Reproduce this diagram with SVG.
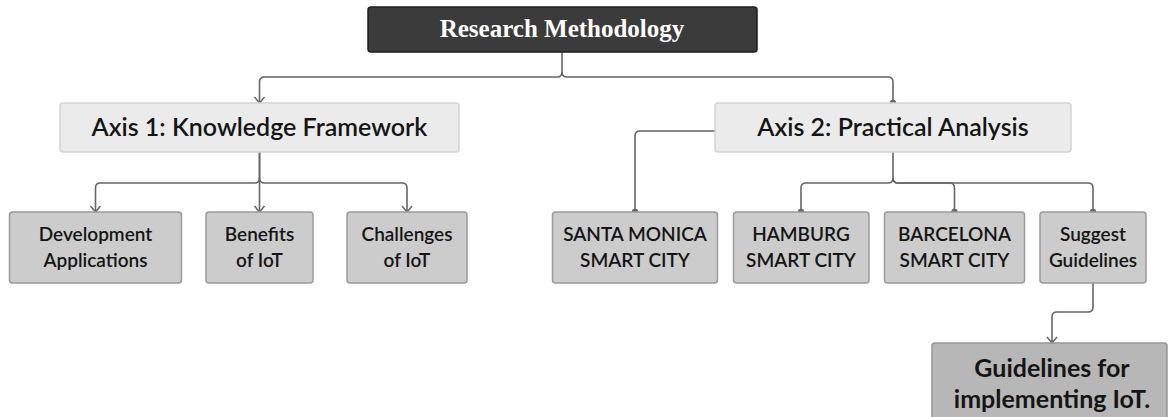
<svg xmlns="http://www.w3.org/2000/svg" width="1172" height="417" viewBox="0 0 1172 417">
<defs>
<style>
.root rect{fill:#3b3b3b;stroke:#1e1e1e;stroke-width:1.5}
.root text{fill:#ffffff;font-family:"Liberation Serif","DejaVu Serif",serif;font-weight:bold;font-size:25px;text-anchor:middle}
.axis rect{fill:#ebebeb;stroke:#d4d4d4;stroke-width:1.5}
.axis text{fill:#151515;font-family:Lato,"Noto Sans",sans-serif;font-weight:600;font-size:25px;text-anchor:middle}
.leaf rect{fill:#cccccc;stroke:#9a9a9a;stroke-width:1.5}
.leaf text{fill:#151515;font-family:Lato,"Noto Sans",sans-serif;font-weight:600;font-size:19px;text-anchor:middle}
.final rect{fill:#b7b7b7;stroke:#959595;stroke-width:1.5}
.final text{fill:#151515;font-family:Lato,"Noto Sans",sans-serif;font-weight:bold;font-size:25px;text-anchor:middle}
.conn path{fill:none;stroke:#666666;stroke-width:1.6}
</style>
<marker id="arrow" markerUnits="userSpaceOnUse" markerWidth="14" markerHeight="14" viewBox="-8 -7 10 14" refX="0" refY="0" orient="auto">
<path d="M-6,-5 L0,0 L-6,5" fill="none" stroke="#666666" stroke-width="1.5"/>
</marker>
<marker id="dot" markerUnits="userSpaceOnUse" markerWidth="8" markerHeight="8" viewBox="-4 -4 8 8" refX="0" refY="0" orient="auto">
<circle cx="0" cy="0" r="3.2" fill="#666666"/>
</marker>
</defs>
<rect x="0" y="0" width="1172" height="417" fill="#ffffff"/>
<g id="connectors" class="conn">
<path d="M562 52 V72 Q562 77 557 77 H264.5 Q259.5 77 259.5 82 V103" marker-end="url(#arrow)"/>
<path d="M562 72 Q562 77 567 77 H888 Q893 77 893 82 V103" marker-end="url(#dot)"/>
<path d="M259.5 152 V178 Q259.5 183 254.5 183 H100.5 Q95.5 183 95.5 188 V212" marker-end="url(#arrow)"/>
<path d="M259.5 152 V212" marker-end="url(#arrow)"/>
<path d="M259.5 178 Q259.5 183 264.5 183 H402 Q407 183 407 188 V212" marker-end="url(#arrow)"/>
<path d="M715 131 H640 Q635 131 635 136 V212" marker-end="url(#dot)"/>
<path d="M893 152 V178 Q893 183 888 183 H806 Q801 183 801 188 V212" marker-end="url(#dot)"/>
<path d="M893 178 Q893 183 898 183 H949.5 Q954.5 183 954.5 188 V212" marker-end="url(#dot)"/>
<path d="M893 178 Q893 183 898 183 H1088 Q1093 183 1093 188 V212" marker-end="url(#dot)"/>
<path d="M1093 283 V307 Q1093 312 1088 312 H1057 Q1052 312 1052 317 V343" marker-end="url(#arrow)"/>
</g>
<g id="root" class="root">
<rect x="368" y="7" width="389" height="45" rx="3"/>
<text x="562" y="37">Research Methodology</text>
</g>
<g id="axis1" class="axis">
<rect x="60" y="103" width="399" height="49" rx="3"/>
<text x="259.5" y="136">Axis 1: Knowledge Framework</text>
</g>
<g id="axis2" class="axis">
<rect x="715" y="103" width="356" height="49" rx="3"/>
<text x="893" y="136">Axis 2: Practical Analysis</text>
</g>
<g id="development" class="leaf">
<rect x="9.5" y="212" width="172" height="71" rx="3"/>
<text x="95.5" y="241">Development</text>
<text x="95.5" y="267">Applications</text>
</g>
<g id="benefits" class="leaf">
<rect x="206" y="212" width="107" height="71" rx="3"/>
<text x="259.5" y="241">Benefits</text>
<text x="259.5" y="267">of IoT</text>
</g>
<g id="challenges" class="leaf">
<rect x="347" y="212" width="120" height="71" rx="3"/>
<text x="407" y="241">Challenges</text>
<text x="407" y="267">of IoT</text>
</g>
<g id="santamonica" class="leaf">
<rect x="552.5" y="212" width="165" height="71" rx="3"/>
<text x="635" y="241">SANTA MONICA</text>
<text x="635" y="267">SMART CITY</text>
</g>
<g id="hamburg" class="leaf">
<rect x="733.5" y="212" width="135.5" height="71" rx="3"/>
<text x="801" y="241">HAMBURG</text>
<text x="801" y="267">SMART CITY</text>
</g>
<g id="barcelona" class="leaf">
<rect x="884.5" y="212" width="140" height="71" rx="3"/>
<text x="954.5" y="241">BARCELONA</text>
<text x="954.5" y="267">SMART CITY</text>
</g>
<g id="suggest" class="leaf">
<rect x="1040" y="212" width="106" height="71" rx="3"/>
<text x="1093" y="241">Suggest</text>
<text x="1093" y="267">Guidelines</text>
</g>
<g id="final" class="final">
<rect x="932" y="343" width="235" height="84" rx="3"/>
<text x="1052" y="377">Guidelines for</text>
<text x="1052" y="408">implementing IoT.</text>
</g>
</svg>
